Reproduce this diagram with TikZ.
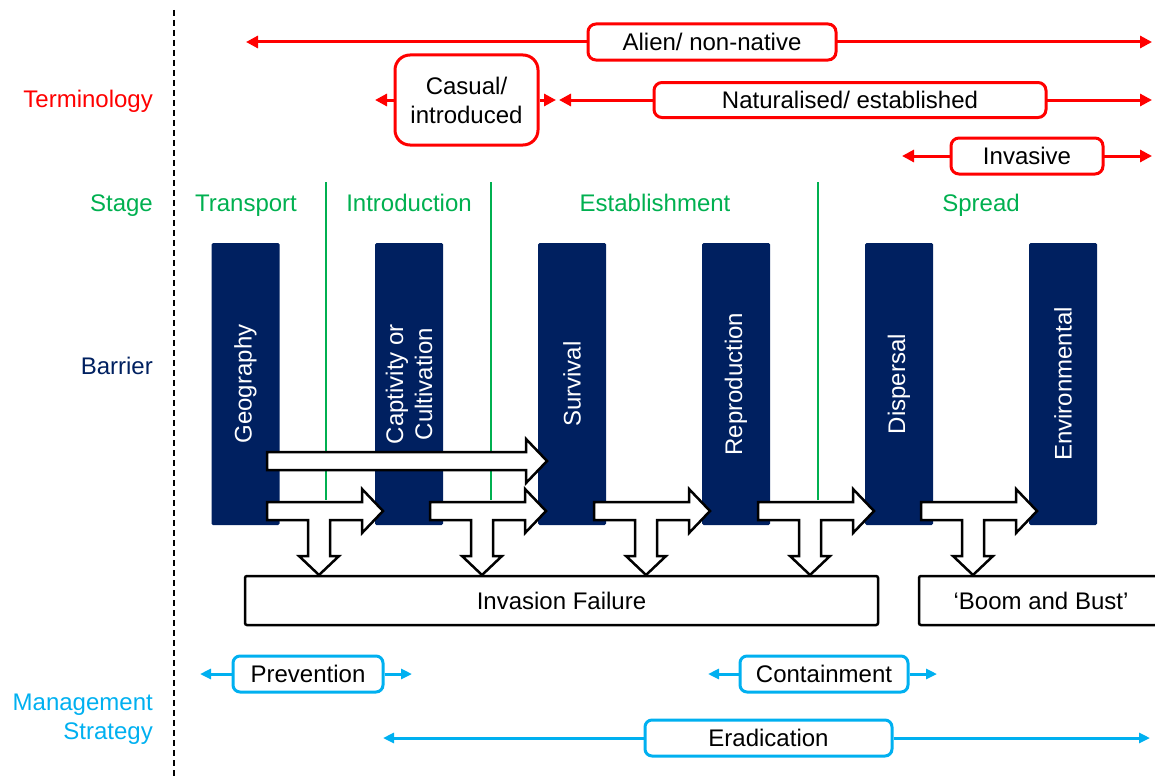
\documentclass[tikz,border=0pt]{standalone}
\usepackage{fontspec}
\setmainfont{Liberation Sans}
\usetikzlibrary{arrows.meta, positioning}
\definecolor{termred}{RGB}{255,0,0}
\definecolor{stagegreen}{RGB}{0,176,80}
\definecolor{barnavy}{RGB}{0,32,96}
\definecolor{mgmtblue}{RGB}{0,176,240}

\begin{document}
\begin{tikzpicture}[
      x=1pt, y=-1pt,
      every node/.style={font=\fontsize{24}{29}\selectfont, inner sep=0pt},
      txt/.style={text height=17pt, text depth=0pt},
      termbox/.style={draw=termred, line width=3pt, fill=white, rounded corners=8pt, minimum height=36pt, align=center},
      termarr/.style={draw=termred, line width=3pt, -{Triangle[length=12pt, width=12pt]}},
      mgmtbox/.style={draw=mgmtblue, line width=3pt, fill=white, rounded corners=7pt, minimum height=36pt, txt},
      mgmtarr/.style={draw=mgmtblue, line width=3pt, -{Triangle[length=11pt, width=10pt]}},
      stagetxt/.style={text=stagegreen, txt},
      stageline/.style={draw=stagegreen, line width=2.5pt},
      barbox/.style={fill=barnavy, text=white, rounded corners=1.5pt, rotate=90, align=center, minimum width=282pt, minimum height=68pt},
      blockarr/.style={draw=black, line width=2.5pt, fill=white, line join=miter},
      outcome/.style={draw=black, line width=2.5pt, fill=white, rounded corners=2pt, minimum height=49pt, txt},
      tarrow/.pic={
        \draw[blockarr] (0,-9) -- (95,-9) -- (95,-22) -- (116,0) -- (95,22) -- (95,9)
          -- (63,9) -- (63,45) -- (72,45) -- (52,64) -- (32,45) -- (41,45) -- (41,9)
          -- (0,9) -- cycle;
      }
    ]
    \useasboundingbox (0,0) rectangle (1155,776);

    % row headings
    \draw[line width=1.8pt, dash pattern=on 6pt off 4pt] (174,10) -- (174,776);
    \node[anchor=east, text=termred, txt] (hterm) at (153,99) {Terminology};
    \node[anchor=east, text=stagegreen, txt] (hstage) at (153,203) {Stage};
    \node[anchor=east, text=barnavy, txt] (hbar) at (153,366) {Barrier};
    \node[anchor=east, text=mgmtblue, align=right] (hmgmt) at (153,719) {Management\\Strategy};

    % terminology
    \coordinate (alienL) at (246,42);
    \coordinate (alienR) at (1152,42);
    \coordinate (casualL) at (375,100);
    \coordinate (casualR) at (556,100);
    \coordinate (naturL) at (559,100);
    \coordinate (naturR) at (1152,100);
    \coordinate (invL) at (902,156);
    \coordinate (invR) at (1152,156);
    \draw[termarr] (712,42) -- (alienL);
    \draw[termarr] (712,42) -- (alienR);
    \draw[termarr] (850,100) -- (naturL);
    \draw[termarr] (850,100) -- (naturR);
    \draw[termarr] (1027,156) -- (invL);
    \draw[termarr] (1027,156) -- (invR);
    \node[termbox, txt, minimum width=248pt] (alien) at (712,42) {Alien/ non-native};
    \node[termbox, txt, minimum width=392pt, minimum height=35pt] (natur) at (850,100) {Naturalised/ established};
    \node[termbox, txt, minimum width=152pt] (invasive) at (1027,156) {Invasive};
    \node[termbox, minimum width=143pt, minimum height=90pt, rounded corners=15pt] (casual) at (466.5,100) {\raisebox{-1.5pt}{\parbox{140pt}{\centering Casual/\\introduced}}};
    \draw[termarr] (casual.west) -- (casualL);
    \draw[termarr] (casual.east) -- (casualR);

    % stages
    \foreach \x/\t in {246/Transport, 409/Introduction, 655/Establishment, 981/Spread}
      \node[stagetxt] (st-\t) at (\x,203) {\t};
    \foreach \x in {326,491,818}
      \draw[stageline] (\x,182) -- (\x,500);

    % barriers
    \foreach \x/\n/\t in {245.5/geo/Geography, 409/capt/{Captivity or\\Cultivation}, 572/surv/Survival,
                          736/repro/Reproduction, 899/disp/Dispersal, 1063/env/Environmental}
      \node[barbox] (\n) at (\x,384) {\t};

    % pathways
    \draw[blockarr] (267,452) -- (526,452) -- (526,439) -- (547,461) -- (526,483) -- (526,470) -- (267,470) -- cycle;
    \foreach \x in {267,430,594,758,921}
      \pic at (\x,511) {tarrow};

    \node[outcome, minimum width=633pt] (fail) at (561.5,600.5) {Invasion Failure};
    \node[outcome, minimum width=244pt] (boom) at (1041,600.5) {‘Boom and Bust’};

    % management
    \coordinate (prevL) at (200,674);
    \coordinate (prevR) at (412,674);
    \coordinate (contL) at (708,674);
    \coordinate (contR) at (937,674);
    \coordinate (eradL) at (383,738);
    \coordinate (eradR) at (1150,738);
    \node[mgmtbox, minimum width=150pt] (prevent) at (308,674) {Prevention};
    \node[mgmtbox, minimum width=168pt] (contain) at (824,674) {Containment};
    \node[mgmtbox, minimum width=247pt] (eradic) at (768.5,738) {Eradication};
    \draw[mgmtarr] (prevent.west) -- (prevL);
    \draw[mgmtarr] (prevent.east) -- (prevR);
    \draw[mgmtarr] (contain.west) -- (contL);
    \draw[mgmtarr] (contain.east) -- (contR);
    \draw[mgmtarr] (eradic.west) -- (eradL);
    \draw[mgmtarr] (eradic.east) -- (eradR);
  \end{tikzpicture}
\end{document}
